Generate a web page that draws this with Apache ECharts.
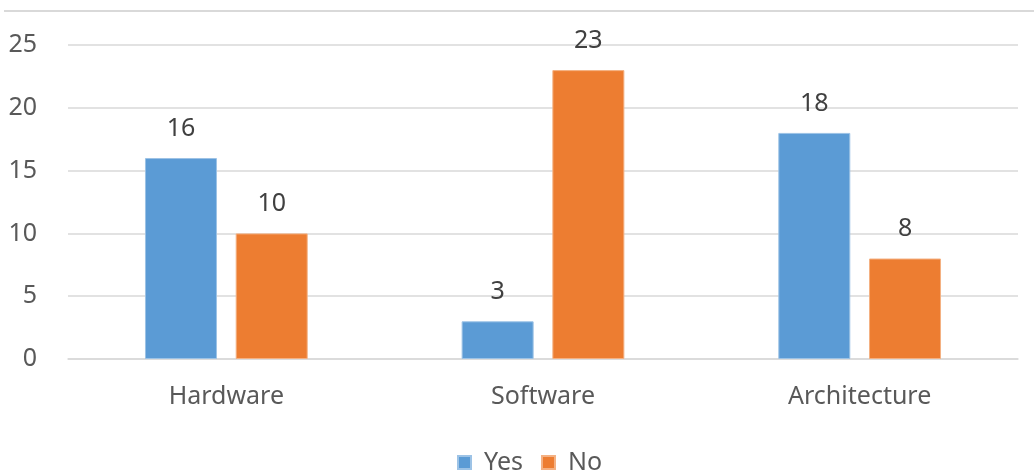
<!DOCTYPE html>
<html>
<head>
<meta charset="utf-8">
<script src="https://cdn.jsdelivr.net/npm/echarts@6/dist/echarts.min.js"></script>
<style>
  html, body { margin: 0; padding: 0; background: #fff; }
  #chart { width: 1034px; height: 475px; }
</style>
</head>
<body>
<div id="chart"></div>
<script>
  var categories = ['Hardware', 'Software', 'Architecture'];
  var yesValues = [16, 3, 18];
  var noValues = [10, 23, 8];
  var seriesNames = ['Yes', 'No'];

  var myChart = echarts.init(document.getElementById('chart'));
  var font = '"Noto Sans", sans-serif';
  var labelStyle = {
    show: true,
    position: 'top',
    distance: 17,
    color: '#404040',
    fontSize: 25,
    fontFamily: font
  };
  var option = {
    animation: false,
    textStyle: { fontFamily: font },
    graphic: [{
      type: 'line',
      shape: { x1: 4, y1: 11, x2: 1034, y2: 11 },
      style: { stroke: '#d9d9d9', lineWidth: 2 }
    }],
    legend: {
      bottom: -5,
      left: 452,
      itemWidth: 13,
      itemHeight: 13,
      itemGap: 18,
      icon: 'rect',
      textStyle: { color: '#595959', fontSize: 25, fontFamily: font, padding: [0, 0, 0, 8] },
      data: seriesNames
    },
    grid: {
      top: 45,
      left: 68,
      right: 16,
      bottom: 116
    },
    xAxis: {
      type: 'category',
      data: categories,
      axisTick: { show: false },
      axisLine: { lineStyle: { color: '#d9d9d9', width: 1.5 } },
      axisLabel: { color: '#595959', fontSize: 25, margin: 25, fontFamily: font }
    },
    yAxis: {
      type: 'value',
      min: 0,
      max: 25,
      interval: 5,
      axisLine: { show: false },
      axisTick: { show: false },
      splitLine: { lineStyle: { color: '#d9d9d9', width: 1.5 } },
      axisLabel: { color: '#595959', fontSize: 25, margin: 31, fontFamily: font }
    },
    series: [{
      name: seriesNames[0],
      type: 'bar',
      data: yesValues,
      barWidth: 72,
      barGap: '26%',
      itemStyle: { color: '#5b9bd5', borderColor: '#9dc3e6', borderWidth: 1 },
      label: labelStyle
    }, {
      name: seriesNames[1],
      type: 'bar',
      data: noValues,
      barWidth: 72,
      barGap: '26%',
      itemStyle: { color: '#ed7d31', borderColor: '#f4b183', borderWidth: 1 },
      label: labelStyle
    }]
  };
  myChart.setOption(option);
</script>
</body>
</html>
